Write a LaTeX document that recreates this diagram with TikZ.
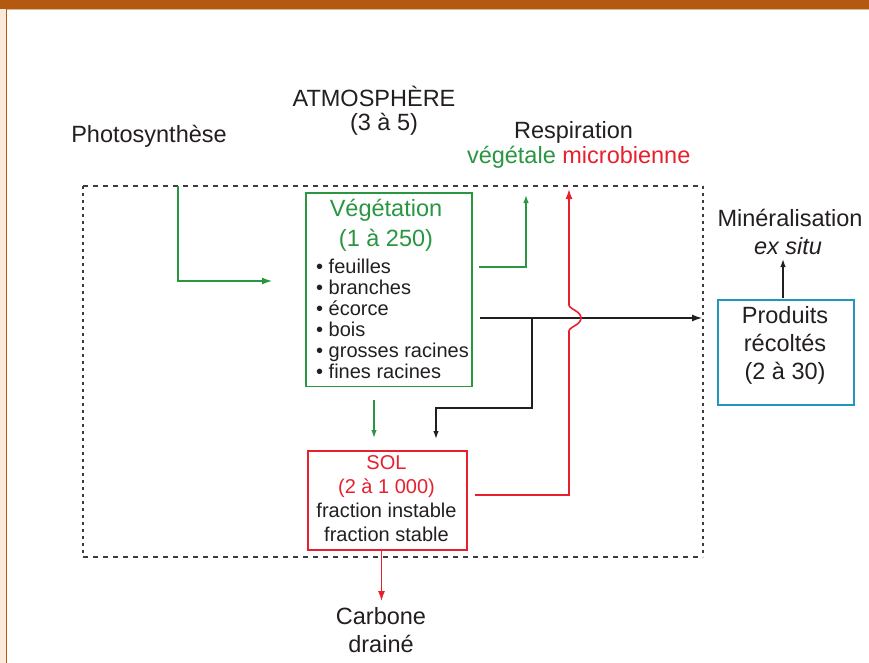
\documentclass[tikz,border=0pt]{standalone}
\usepackage{fontspec}
\setmainfont{Liberation Sans}
\usetikzlibrary{arrows.meta,calc}
\definecolor{vgreen}{RGB}{42,150,66}
\definecolor{sred}{RGB}{232,32,46}
\definecolor{pteal}{RGB}{32,152,190}
\definecolor{borange}{RGB}{180,90,16}
\definecolor{bbeige}{RGB}{250,234,218}
\definecolor{txt}{RGB}{35,31,32}
\definecolor{dgray}{RGB}{60,60,60}
\begin{document}
\begin{tikzpicture}[x=1pt,y=-1pt,
  big/.style={font=\fontsize{23.5}{28}\selectfont, text=txt, inner sep=0pt, anchor=base},
  small/.style={font=\fontsize{20}{24}\selectfont, text=txt, inner sep=0pt, anchor=base},
  item/.style={small, anchor=base west},
  arr/.style={-{Latex[length=10pt,width=7pt]}, line width=1.3pt},
  sarr/.style={-{Latex[length=8pt,width=5.5pt]}, line width=1.3pt},
  boxn/.style={line width=1.7pt, inner sep=0pt, anchor=north west},
]
\useasboundingbox (0,0) rectangle (869,663);
\fill[white] (0,0) rectangle (869,663);
\fill[bbeige] (0,0) rectangle (5.5,663);
\fill[borange] (5.5,0) rectangle (7.2,663);
\fill[borange] (0,0) rectangle (869,9);
\fill[borange!45] (7.2,9) rectangle (869,10.5);

% dashed frame
\draw[dgray, line width=1.2pt, dash pattern=on 5pt off 5pt] (83,186) -- (703,186);
\draw[dgray, line width=1.2pt, dash pattern=on 5pt off 5pt] (83,557) -- (703,557);
\draw[dgray, line width=1.6pt, dash pattern=on 3pt off 4pt] (83,186) -- (83,557);
\draw[dgray, line width=1.6pt, dash pattern=on 3pt off 4pt] (703,186) -- (703,557);

% boxes
\node[boxn, draw=vgreen, minimum width=166pt, minimum height=193.5pt] (veg) at (305,192) {};
\node[boxn, draw=sred, minimum width=159pt, minimum height=99pt] (sol) at (307,450) {};
\node[boxn, draw=pteal, minimum width=136pt, minimum height=105pt] (prod) at (717,299) {};

% texts
\node[big] (atm1) at (374,106.7) {ATMOSPHÈRE};
\node[big] (atm2) at (384,130.5) {(3 à 5)};
\node[big] (photo) at (149,142.3) {Photosynthèse};
\node[big] (resp1) at (573.5,138.3) {Respiration};
\node[big] (resp2) at (578.7,163.3) {\textcolor{vgreen}{végétale} \textcolor{sred}{microbienne}};
\node[big] (min1) at (790,226.7) {Minéralisation};
\node[big] (min2) at (788,254) {\itshape ex situ};
\node[big, text=vgreen] (veg1) at (386,216.7) {Végétation};
\node[big, text=vgreen] (veg2) at (386,246.7) {(1 à 250)};
\node[item] (i1) at (316,273) {• feuilles};
\node[item] (i2) at (316,294.5) {• branches};
\node[item] (i3) at (316,315.5) {• écorce};
\node[item] (i4) at (316,336.5) {• bois};
\node[item] (i5) at (316,357) {• grosses racines};
\node[item] (i6) at (316,378) {• fines racines};
\node[small, text=sred] (sol1) at (386.5,469) {SOL};
\node[small, text=sred] (sol2) at (386.5,493) {(2 à 1 000)};
\node[small] (sol3) at (386.5,517) {fraction instable};
\node[small] (sol4) at (386.5,541) {fraction stable};
\node[big] (pr1) at (785,323) {Produits};
\node[big] (pr2) at (785,351.5) {récoltés};
\node[big] (pr3) at (785,379) {(2 à 30)};
\node[big] (cb1) at (381,624) {Carbone};
\node[big] (cb2) at (381,652) {drainé};

% connector coordinates
\coordinate (ph0) at (178,186);
\coordinate (ph1) at (272,281);
\coordinate (rv0) at (479,267);
\coordinate (rv1) at (526,195);
\coordinate (vs0) at (374,400);
\coordinate (vs1) at (374,438);
\coordinate (h0) at (480,318);
\coordinate (h1) at (702,318);
\coordinate (br0) at (532,318);
\coordinate (br1) at (436,408);
\coordinate (br2) at (436,439);
\coordinate (rm0) at (475,495);
\coordinate (rm1) at (569,495);
\coordinate (rm2) at (569,331);
\coordinate (rm3) at (569,305);
\coordinate (rm4) at (569,189);
\coordinate (cd0) at (381.5,549);
\coordinate (cd1) at (381.5,601);
\coordinate (mx0) at (783,298);
\coordinate (mx1) at (783,259);

% connectors
\draw[arr, vgreen] (ph0) |- (ph1);
\draw[sarr, vgreen] (rv0) -| (rv1);
\draw[sarr, vgreen] (vs0) -- (vs1);
\draw[arr, txt] (h0) -- (h1);
\draw[sarr, txt] (br0) |- (br1) -- (br2);
\draw[arr, sred, line width=1.6pt] (rm0) -- (rm1) -- (rm2)
  .. controls (569,327) and (581,325) .. (581,318)
  .. controls (581,311) and (569,309) .. (rm3) -- (rm4);
\draw[arr, sred, line width=1.4pt] (cd0) -- (cd1);
\draw[sarr, txt] (mx0) -- (mx1);
\end{tikzpicture}
\end{document}
